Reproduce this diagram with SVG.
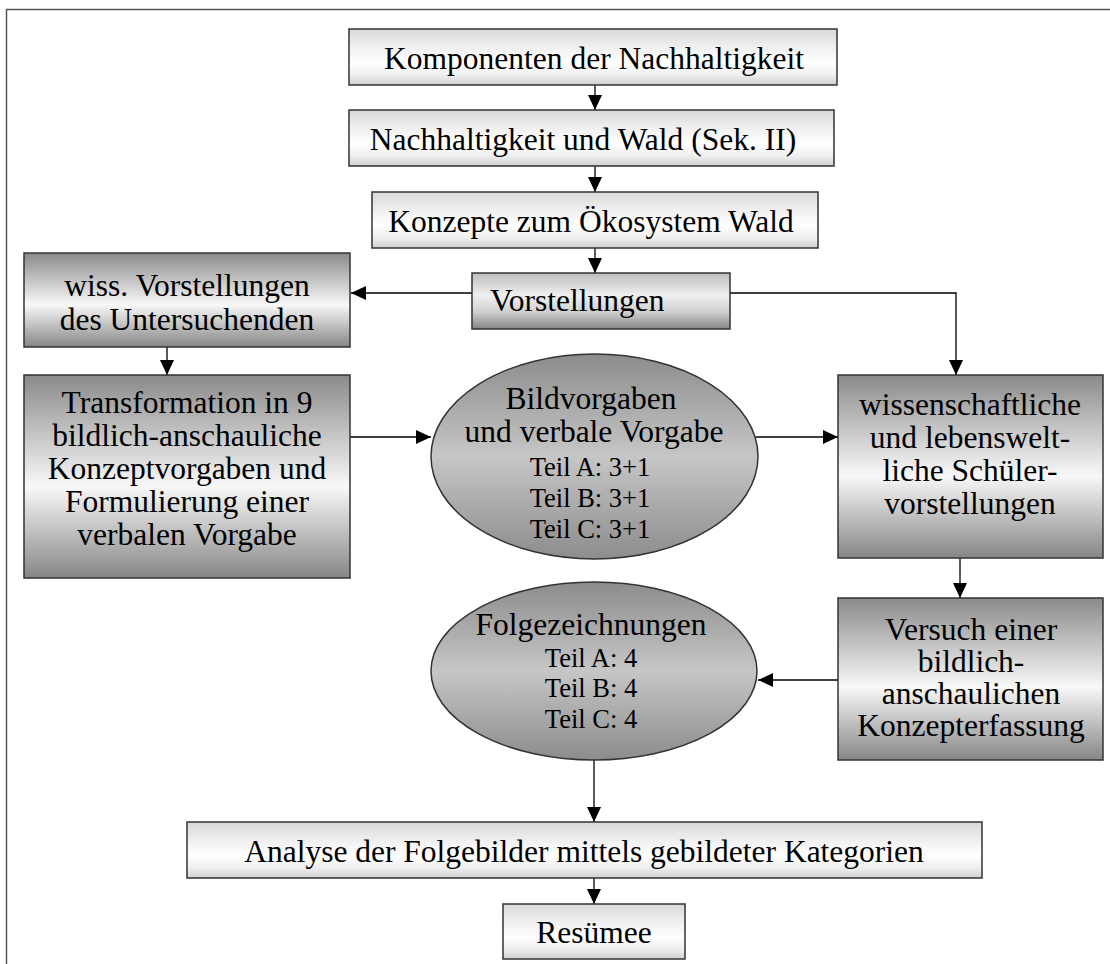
<svg xmlns="http://www.w3.org/2000/svg" width="1110" height="964" viewBox="0 0 1110 964">
<defs>
  <linearGradient id="gLight" x1="0" y1="0" x2="0" y2="1">
    <stop offset="0" stop-color="#d8d8d8"/>
    <stop offset="0.3" stop-color="#eeeeee"/>
    <stop offset="0.6" stop-color="#ffffff"/>
    <stop offset="0.82" stop-color="#efefef"/>
    <stop offset="1" stop-color="#d0d0d0"/>
  </linearGradient>
  <linearGradient id="gVor" x1="0" y1="0" x2="0" y2="1">
    <stop offset="0" stop-color="#bdbdbd"/>
    <stop offset="0.4" stop-color="#f0f0f0"/>
    <stop offset="0.7" stop-color="#cfcfcf"/>
    <stop offset="1" stop-color="#858585"/>
  </linearGradient>
  <linearGradient id="gDark" x1="0" y1="0" x2="0" y2="1">
    <stop offset="0" stop-color="#8a8a8a"/>
    <stop offset="0.55" stop-color="#f8f8f8"/>
    <stop offset="1" stop-color="#868686"/>
  </linearGradient>
  <linearGradient id="gEll" x1="0" y1="0" x2="0" y2="1">
    <stop offset="0" stop-color="#8c8c8c"/>
    <stop offset="0.5" stop-color="#c6c6c6"/>
    <stop offset="1" stop-color="#8c8c8c"/>
  </linearGradient>
  <marker id="ah" markerUnits="userSpaceOnUse" markerWidth="16" markerHeight="14" refX="15" refY="7" orient="auto">
    <path d="M0,0 L15,7 L0,14 z" fill="#000"/>
  </marker>
</defs>
<style>
  .t{font-family:"Liberation Serif","Times New Roman",serif;font-size:31.5px;fill:#000;text-anchor:middle}
  .s{font-size:26.5px}
  .l{text-anchor:start}
  .box{stroke:#333;stroke-width:1.5}
  .c{fill:none;stroke:#000;stroke-width:1.3;marker-end:url(#ah)}
</style>
<rect width="1110" height="964" fill="#fff"/>
<path id="frame" d="M6.5,964 V9.5 H1110" fill="none" stroke="#555" stroke-width="1.5"/>

<g id="connectors">
  <path class="c" d="M595,85 V110"/>
  <path class="c" d="M595,166 V192"/>
  <path class="c" d="M595,248 V273"/>
  <path class="c" d="M472,293 H351"/>
  <path class="c" d="M730,293 H956 V375"/>
  <path class="c" d="M167,347 V375"/>
  <path class="c" d="M350,437 H431"/>
  <path class="c" d="M756,437 H838"/>
  <path class="c" d="M960,558 V598"/>
  <path class="c" d="M838,680 H758"/>
  <path class="c" d="M594,760 V822"/>
  <path class="c" d="M594,878 V904"/>
</g>

<g id="n1">
  <rect class="box" x="349" y="29" width="488" height="56" fill="url(#gLight)"/>
  <text class="t" x="594" y="69">Komponenten der Nachhaltigkeit</text>
</g>
<g id="n2">
  <rect class="box" x="349" y="110" width="485" height="56" fill="url(#gLight)"/>
  <text class="t" x="583" y="150">Nachhaltigkeit und Wald (Sek. II)</text>
</g>
<g id="n3">
  <rect class="box" x="372" y="192" width="446" height="56" fill="url(#gLight)"/>
  <text class="t" x="591" y="232">Konzepte zum Ökosystem Wald</text>
</g>
<g id="n4">
  <rect class="box" x="472" y="273" width="258" height="56" fill="url(#gVor)"/>
  <text class="t l" x="490" y="311">Vorstellungen</text>
</g>
<g id="n5">
  <rect class="box" x="24" y="253" width="326" height="94" fill="url(#gDark)"/>
  <text class="t" x="187" y="296">wiss. Vorstellungen</text>
  <text class="t" x="187" y="330">des Untersuchenden</text>
</g>
<g id="n6">
  <rect class="box" x="24" y="375" width="326" height="203" fill="url(#gDark)"/>
  <text class="t" x="187" y="413">Transformation in 9</text>
  <text class="t" x="187" y="446">bildlich-anschauliche</text>
  <text class="t" x="187" y="479">Konzeptvorgaben und</text>
  <text class="t" x="187" y="512">Formulierung einer</text>
  <text class="t" x="187" y="545">verbalen Vorgabe</text>
</g>
<g id="n7">
  <ellipse class="box" cx="594.5" cy="456.5" rx="163.5" ry="102.5" fill="url(#gEll)" stroke-width="1.2"/>
  <text class="t" x="591" y="409">Bildvorgaben</text>
  <text class="t" x="594" y="442">und verbale Vorgabe</text>
  <text class="t s" x="590" y="476">Teil A: 3+1</text>
  <text class="t s" x="590" y="507">Teil B: 3+1</text>
  <text class="t s" x="590" y="538">Teil C: 3+1</text>
</g>
<g id="n8">
  <rect class="box" x="838" y="375" width="265" height="183" fill="url(#gDark)"/>
  <text class="t" x="970" y="415">wissenschaftliche</text>
  <text class="t" x="970" y="448">und lebenswelt-</text>
  <text class="t" x="970" y="481">liche Schüler-</text>
  <text class="t" x="970" y="514">vorstellungen</text>
</g>
<g id="n9">
  <rect class="box" x="838" y="598" width="265" height="162" fill="url(#gDark)"/>
  <text class="t" x="971" y="640">Versuch einer</text>
  <text class="t" x="971" y="672">bildlich-</text>
  <text class="t" x="971" y="704">anschaulichen</text>
  <text class="t" x="971" y="736">Konzepterfassung</text>
</g>
<g id="n10">
  <ellipse class="box" cx="594" cy="671" rx="163" ry="89" fill="url(#gEll)" stroke-width="1.2"/>
  <text class="t" x="591" y="635">Folgezeichnungen</text>
  <text class="t s" x="591" y="667">Teil A: 4</text>
  <text class="t s" x="591" y="697">Teil B: 4</text>
  <text class="t s" x="591" y="728">Teil C: 4</text>
</g>
<g id="n11">
  <rect class="box" x="187" y="822" width="795" height="56" fill="url(#gLight)"/>
  <text class="t" x="584" y="862">Analyse der Folgebilder mittels gebildeter Kategorien</text>
</g>
<g id="n12">
  <rect class="box" x="503" y="904" width="182" height="55" fill="url(#gLight)"/>
  <text class="t" x="594" y="943">Resümee</text>
</g>
</svg>
